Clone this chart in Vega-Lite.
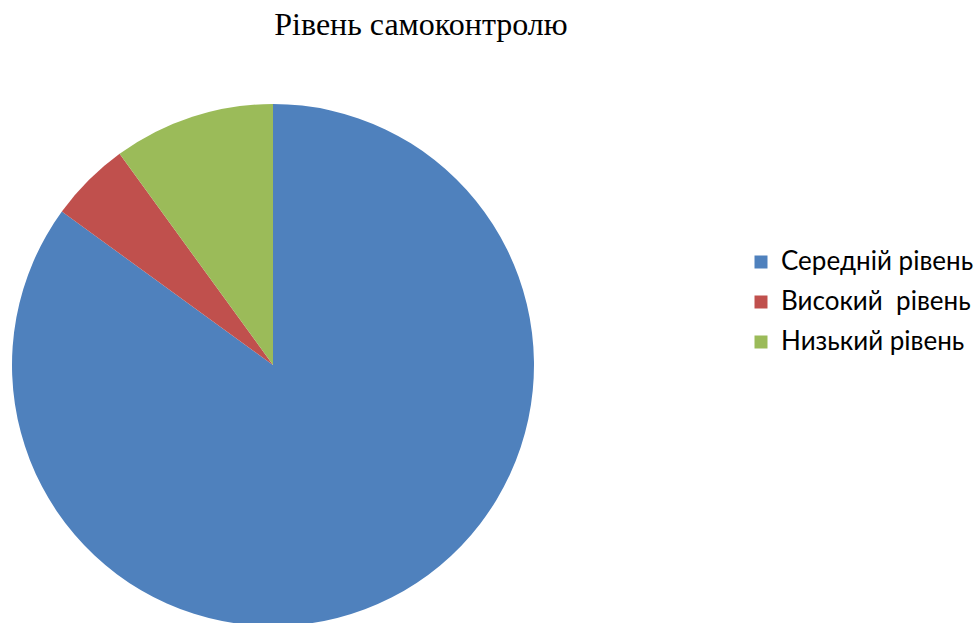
{
  "$schema": "https://vega.github.io/schema/vega-lite/v6.json",
  "autosize": {"type": "none"},
  "padding": {"left": 0, "top": 107, "right": 433, "bottom": 0},
  "width": 546,
  "height": 516,
  "background": "white",
  "title": {
    "text": "Рівень самоконтролю",
    "font": "Liberation Serif",
    "fontSize": 32,
    "fontWeight": "normal",
    "color": "#000000",
    "anchor": "middle",
    "frame": "group",
    "dx": 148,
    "offset": 62
  },
  "data": {
    "values": [
      {"level": "Середній рівень", "value": 85, "idx": 1},
      {"level": "Високий\u00a0 рівень", "value": 5, "idx": 2},
      {"level": "Низький рівень", "value": 10, "idx": 3}
    ]
  },
  "mark": {"type": "arc", "outerRadius": 261},
  "encoding": {
    "theta": {"field": "value", "type": "quantitative", "stack": true},
    "order": {"field": "idx", "type": "quantitative"},
    "color": {
      "field": "level",
      "type": "nominal",
      "scale": {
        "domain": ["Середній рівень", "Високий\u00a0 рівень", "Низький рівень"],
        "range": ["#4F81BD", "#C0504D", "#9BBB59"]
      },
      "legend": {
        "title": null,
        "orient": "none",
        "legendX": 748,
        "legendY": 142,
        "symbolType": "square",
        "symbolSize": 169,
        "symbolStrokeWidth": 0,
        "labelFont": "Lato",
        "labelFontSize": 26,
        "labelColor": "#000000",
        "labelOffset": 7,
        "labelLimit": 400,
        "rowPadding": 14
      }
    }
  },
  "config": {"view": {"stroke": null}}
}
